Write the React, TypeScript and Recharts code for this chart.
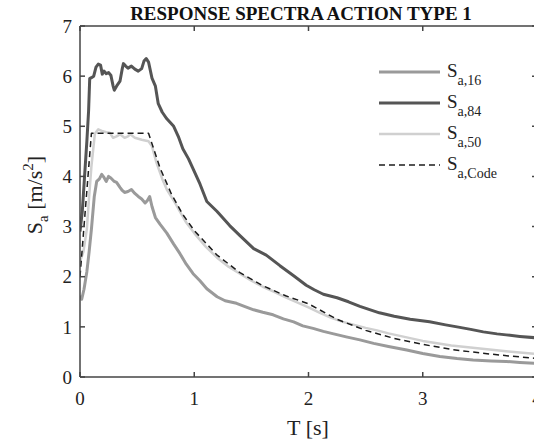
import React from 'react';
import { LineChart, Line, XAxis, YAxis, Legend } from 'recharts';

// Period T [s] and spectral acceleration Sa [m/s^2]
const sa16: [number, number][] = [
  [0, 1.62], [0.015, 1.55], [0.035, 1.75], [0.06, 2.1], [0.08, 2.5], [0.1, 2.95], [0.125, 3.6],
  [0.146, 3.9], [0.17, 3.95], [0.19, 4.04], [0.21, 3.98], [0.23, 3.9], [0.25, 4.0], [0.27, 3.97],
  [0.3, 3.9], [0.32, 3.88], [0.35, 3.78], [0.37, 3.72], [0.39, 3.68], [0.42, 3.7], [0.45, 3.74],
  [0.48, 3.66], [0.51, 3.6], [0.54, 3.55], [0.57, 3.47], [0.59, 3.52], [0.61, 3.6], [0.63, 3.4],
  [0.66, 3.18], [0.7, 3.05], [0.76, 2.87], [0.82, 2.65], [0.875, 2.46], [0.93, 2.25], [0.99, 2.06],
  [1.05, 1.92], [1.11, 1.76], [1.2, 1.6], [1.27, 1.52], [1.37, 1.47], [1.45, 1.4], [1.52, 1.34],
  [1.6, 1.29], [1.69, 1.24], [1.78, 1.16], [1.87, 1.1], [1.95, 1.02], [2.04, 0.97], [2.13, 0.91],
  [2.22, 0.86], [2.33, 0.8], [2.45, 0.74], [2.57, 0.67], [2.7, 0.61], [2.86, 0.54], [3.0, 0.47],
  [3.15, 0.41], [3.3, 0.37], [3.44, 0.34], [3.6, 0.32], [3.73, 0.31], [3.85, 0.29], [4.0, 0.27],
];

const sa84: [number, number][] = [
  [0, 2.9], [0.02, 3.3], [0.04, 4.0], [0.06, 4.7], [0.075, 5.3], [0.085, 5.95], [0.1, 5.97],
  [0.12, 6.0], [0.14, 6.18], [0.16, 6.24], [0.18, 6.22], [0.195, 6.04], [0.21, 6.1], [0.23, 6.05],
  [0.25, 6.07], [0.27, 6.02], [0.29, 5.8], [0.3, 5.72], [0.32, 5.8], [0.35, 5.9], [0.37, 6.15],
  [0.38, 6.25], [0.4, 6.2], [0.42, 6.16], [0.45, 6.2], [0.48, 6.14], [0.51, 6.1], [0.54, 6.15],
  [0.56, 6.3], [0.58, 6.35], [0.6, 6.28], [0.63, 5.96], [0.66, 5.8], [0.685, 5.45], [0.72, 5.28],
  [0.76, 5.15], [0.82, 5.0], [0.86, 4.8], [0.9, 4.55], [0.95, 4.35], [0.99, 4.15], [1.05, 3.85],
  [1.11, 3.5], [1.2, 3.3], [1.31, 3.02], [1.4, 2.82], [1.52, 2.56], [1.63, 2.43], [1.75, 2.22],
  [1.87, 2.02], [1.98, 1.83], [2.05, 1.74], [2.13, 1.65], [2.25, 1.58], [2.35, 1.5], [2.45, 1.41],
  [2.62, 1.28], [2.75, 1.21], [2.89, 1.15], [3.06, 1.1], [3.2, 1.04], [3.3, 1.0], [3.42, 0.95],
  [3.53, 0.9], [3.65, 0.86], [3.73, 0.84], [3.85, 0.81], [4.0, 0.78],
];

const sa50: [number, number][] = [
  [0, 2.3], [0.03, 2.5], [0.06, 2.95], [0.08, 3.6], [0.1, 4.2], [0.13, 4.85], [0.16, 4.94],
  [0.2, 4.9], [0.23, 4.88], [0.26, 4.87], [0.29, 4.77], [0.32, 4.8], [0.35, 4.84], [0.39, 4.77],
  [0.42, 4.8], [0.44, 4.84], [0.48, 4.77], [0.51, 4.75], [0.54, 4.73], [0.6, 4.7], [0.63, 4.6],
  [0.67, 4.27], [0.72, 3.95], [0.76, 3.74], [0.82, 3.52], [0.875, 3.3], [0.93, 3.08], [1.0, 2.87],
  [1.1, 2.6], [1.2, 2.38], [1.3, 2.2], [1.4, 2.06], [1.5, 1.92], [1.6, 1.8], [1.7, 1.7],
  [1.8, 1.59], [1.9, 1.49], [2.0, 1.39], [2.1, 1.28], [2.2, 1.18], [2.3, 1.1], [2.4, 1.04],
  [2.5, 0.98], [2.6, 0.93], [2.7, 0.87], [2.8, 0.82], [2.9, 0.77], [3.0, 0.72], [3.25, 0.63],
  [3.5, 0.57], [3.75, 0.51], [4.0, 0.46],
];

const saCode: [number, number][] = [
  [0, 2.0], [0.1, 4.86], [0.6, 4.86], [0.7, 4.17], [0.8, 3.65], [0.9, 3.24], [1.0, 2.92],
  [1.2, 2.43], [1.4, 2.08], [1.6, 1.82], [1.8, 1.62], [2.0, 1.46], [2.25, 1.15], [2.5, 0.93],
  [2.75, 0.77], [3.0, 0.65], [3.25, 0.55], [3.5, 0.48], [3.75, 0.42], [4.0, 0.37],
];

const xTicks = [0, 1, 2, 3, 4];
const yTicks = [0, 1, 2, 3, 4, 5, 6, 7];

const seriesSubs = ['a,16', 'a,84', 'a,50', 'a,Code'];
const seriesData = [sa16, sa84, sa50, saCode];
const seriesStyle = [
  { color: '#9a9a9a', width: 3, dash: undefined as string | undefined },
  { color: '#555555', width: 3, dash: undefined },
  { color: '#d0d0d0', width: 2.5, dash: undefined },
  { color: '#1c1c1c', width: 1.5, dash: '6 4' },
];

const FONT = '"Liberation Serif", "Times New Roman", serif';
const AXIS = '#444444';

const toRows = (arr: [number, number][]) => arr.map(([t, v]) => ({ t, v }));

const LegendBox = () => (
  <svg width={160} height={130} style={{ display: 'block' }}>
    {seriesSubs.map((sub, i) => {
      const y = 14 + i * 31;
      const st = seriesStyle[i];
      return (
        <g key={sub}>
          <line x1={9} x2={70} y1={y} y2={y} stroke={st.color} strokeWidth={st.width} strokeDasharray={st.dash} />
          <text x={77} y={y + 5} fontFamily={FONT} fontSize={19} fill="#222">
            S<tspan fontSize={14} dy={8}>{sub}</tspan>
          </text>
        </g>
      );
    })}
  </svg>
);

export default function App() {
  return (
    <div style={{ position: 'absolute', left: 0, top: 0, width: 534, height: 443, overflow: 'hidden', background: '#fff' }}>
      <LineChart width={545} height={443} margin={{ top: 0, right: 0, bottom: 0, left: 0 }}>
        <XAxis
          xAxisId="b" type="number" dataKey="t" domain={[0, 4]} ticks={xTicks} orientation="bottom"
          height={66} tickSize={-5} tickMargin={20} stroke={AXIS} strokeWidth={1.5} allowDataOverflow
          tick={{ fill: '#222', fontSize: 19, fontFamily: FONT }}
        />
        <XAxis
          xAxisId="t" type="number" dataKey="t" domain={[0, 4]} ticks={xTicks} orientation="top"
          height={26} tickSize={-5} stroke={AXIS} strokeWidth={1.5} tickFormatter={() => ''} allowDataOverflow
        />
        <YAxis
          yAxisId="l" type="number" domain={[0, 7]} ticks={yTicks} width={80} tickSize={-5} tickMargin={13}
          stroke={AXIS} strokeWidth={1.5} allowDataOverflow tick={{ fill: '#222', fontSize: 19, fontFamily: FONT }}
        />
        <YAxis
          yAxisId="r" orientation="right" type="number" domain={[0, 7]} ticks={yTicks} width={8} tickSize={-5}
          stroke={AXIS} strokeWidth={1.5} tickFormatter={() => ''} allowDataOverflow
        />
        <Legend
          layout="vertical" align="center" verticalAlign="middle"
          wrapperStyle={{ position: 'absolute', left: 370, top: 58, width: 160, height: 130 }}
          content={() => <LegendBox />}
        />
        {seriesData.map((d, i) => (
          <Line
            key={seriesSubs[i]} xAxisId="b" yAxisId="l" data={toRows(d)} dataKey="v" name={'S' + seriesSubs[i]}
            type="linear" dot={false} activeDot={false} stroke={seriesStyle[i].color}
            strokeWidth={seriesStyle[i].width} strokeDasharray={seriesStyle[i].dash}
            strokeLinejoin="round" isAnimationActive={false}
          />
        ))}
      </LineChart>
      <svg width={534} height={443} style={{ position: 'absolute', left: 0, top: 0, pointerEvents: 'none' }}>
        <text x={301} y={20} textAnchor="middle" fontFamily={FONT} fontWeight="bold" fontSize={19} fill="#111">
          RESPONSE SPECTRA ACTION TYPE 1
        </text>
        <text x={308} y={435} textAnchor="middle" fontFamily={FONT} fontSize={22} fill="#222">T [s]</text>
        <text transform="translate(42,195) rotate(-90)" textAnchor="middle" fontFamily={FONT} fontSize={22} fill="#222">
          S<tspan fontSize={15} dy={6}>a</tspan><tspan dy={-6}> [m/s</tspan><tspan fontSize={15} dy={-9}>2</tspan><tspan dy={9}>]</tspan>
        </text>
      </svg>
    </div>
  );
}
